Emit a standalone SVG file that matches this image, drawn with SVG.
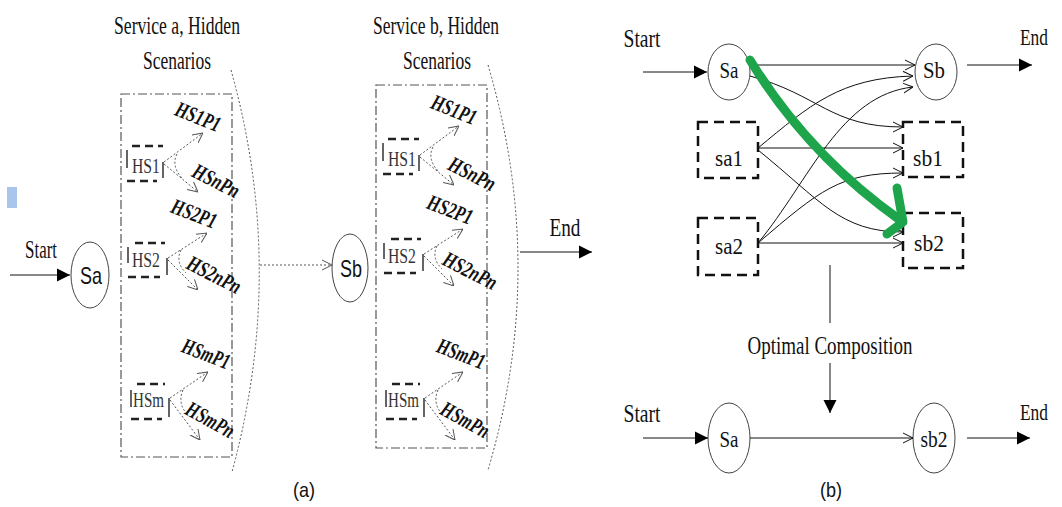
<svg xmlns="http://www.w3.org/2000/svg" width="1062" height="507" viewBox="0 0 1062 507">
<style>
.serif{font-family:"Liberation Serif","Times New Roman",serif;fill:#111}
.sans{font-family:"Liberation Sans",Arial,sans-serif;fill:#111}
.lbl{font-family:"Liberation Serif","Times New Roman",serif;font-weight:bold;font-style:italic;fill:#111;font-size:22px}
.hs{font-family:"Liberation Serif","Times New Roman",serif;fill:#333;font-size:20px}
.dot{fill:none;stroke:#555;stroke-width:1;stroke-dasharray:2 2}
.dashdot{fill:none;stroke:#555;stroke-width:1.2;stroke-dasharray:9 3 2 3}
.thick{fill:none;stroke:#222;stroke-width:2.5;stroke-dasharray:8 5}
.bar{fill:none;stroke:#333;stroke-width:1.5}
.bline{fill:none;stroke:#111;stroke-width:1}
.bbox{fill:none;stroke:#111;stroke-width:2.5;stroke-dasharray:10 6}
.node{fill:#fff;stroke:#444;stroke-width:1}
</style>
<defs>
<marker id="openG" viewBox="0 0 10 10" refX="10" refY="5" markerWidth="10" markerHeight="12" markerUnits="userSpaceOnUse" orient="auto"><path d="M0,0 L10,5 L0,10" fill="none" stroke="#555" stroke-width="1"/></marker>
<marker id="openB" viewBox="0 0 10 10" refX="10" refY="5" markerWidth="10" markerHeight="12" markerUnits="userSpaceOnUse" orient="auto"><path d="M0,0 L10,5 L0,10" fill="none" stroke="#111" stroke-width="1"/></marker>
<marker id="fillB" viewBox="0 0 10 10" refX="10" refY="5" markerWidth="13" markerHeight="14" markerUnits="userSpaceOnUse" orient="auto"><path d="M0,0 L10,5 L0,10 z" fill="#000"/></marker>
</defs>
<rect x="0" y="0" width="1062" height="507" fill="#fff"/>
<rect x="7" y="187" width="10" height="21" fill="#a9c5ec"/>

<g id="title-a">
<text class="serif" x="177" y="34" font-size="26" text-anchor="middle" textLength="126" lengthAdjust="spacingAndGlyphs">Service a, Hidden</text>
<text class="serif" x="177" y="69" font-size="26" text-anchor="middle" textLength="68" lengthAdjust="spacingAndGlyphs">Scenarios</text>
</g>
<g id="title-b">
<text class="serif" x="436" y="34" font-size="26" text-anchor="middle" textLength="126" lengthAdjust="spacingAndGlyphs">Service b, Hidden</text>
<text class="serif" x="437" y="69" font-size="26" text-anchor="middle" textLength="68" lengthAdjust="spacingAndGlyphs">Scenarios</text>
</g>

<g id="box-a">
<rect class="dashdot" x="121" y="94" width="111" height="363"/>
<path class="dot" d="M231,70 Q287,270 232,472"/>
</g>
<g id="box-b">
<rect class="dashdot" x="376" y="85" width="111" height="363"/>
<path class="dot" d="M488,65 Q548,268 488,470"/>
</g>

<g id="a-HS1">
<path class="thick" d="M132,146 H163 M127,181 H157"/>
<path class="bar" d="M127,150 V168 M163,162 V178"/>
<text class="hs" x="132" y="173" textLength="28" lengthAdjust="spacingAndGlyphs">HS1</text>
<path class="dot" d="M164,162 L203,133" marker-end="url(#openG)"/>
<path class="dot" d="M164,164 L198,192" marker-end="url(#openG)"/>
<path class="dot" d="M177,154 Q171,166 182,178"/>
<text class="lbl" transform="translate(198,117) rotate(22)" x="0" y="7" text-anchor="middle" textLength="47" lengthAdjust="spacingAndGlyphs">HS1P1</text>
<text class="lbl" transform="translate(216,181) rotate(27)" x="0" y="7" text-anchor="middle" textLength="50" lengthAdjust="spacingAndGlyphs">HSnPn</text>
</g>
<g id="a-HS2">
<path class="thick" d="M135,243 H165 M128,277 H160"/>
<path class="bar" d="M128,247 V263 M167,258 V275"/>
<text class="hs" x="132" y="267" textLength="28" lengthAdjust="spacingAndGlyphs">HS2</text>
<path class="dot" d="M168,258 L207,233" marker-end="url(#openG)"/>
<path class="dot" d="M168,260 L198,290" marker-end="url(#openG)"/>
<path class="dot" d="M181,250 Q175,262 186,273"/>
<text class="lbl" transform="translate(194,214) rotate(21)" x="0" y="7" text-anchor="middle" textLength="47" lengthAdjust="spacingAndGlyphs">HS2P1</text>
<text class="lbl" transform="translate(214,275) rotate(27)" x="0" y="7" text-anchor="middle" textLength="58" lengthAdjust="spacingAndGlyphs">HS2nPn</text>
</g>
<g id="a-HSm">
<path class="thick" d="M137,384 H165 M131,419 H162"/>
<path class="bar" d="M131,390 V407 M169,398 V417"/>
<text class="hs" x="133" y="407" textLength="31" lengthAdjust="spacingAndGlyphs">HSm</text>
<path class="dot" d="M170,398 L208,372" marker-end="url(#openG)"/>
<path class="dot" d="M170,400 L200,440" marker-end="url(#openG)"/>
<path class="dot" d="M183,390 Q177,404 188,415"/>
<text class="lbl" transform="translate(206,354) rotate(21)" x="0" y="7" text-anchor="middle" textLength="50" lengthAdjust="spacingAndGlyphs">HSmP1</text>
<text class="lbl" transform="translate(210,420) rotate(29)" x="0" y="7" text-anchor="middle" textLength="52" lengthAdjust="spacingAndGlyphs">HSmPn</text>
</g>

<g id="b-HS1" transform="translate(256,-7)">
<path class="thick" d="M132,146 H163 M127,181 H157"/>
<path class="bar" d="M127,150 V168 M163,162 V178"/>
<text class="hs" x="132" y="173" textLength="28" lengthAdjust="spacingAndGlyphs">HS1</text>
<path class="dot" d="M164,162 L203,133" marker-end="url(#openG)"/>
<path class="dot" d="M164,164 L198,192" marker-end="url(#openG)"/>
<path class="dot" d="M177,154 Q171,166 182,178"/>
<text class="lbl" transform="translate(198,117) rotate(22)" x="0" y="7" text-anchor="middle" textLength="47" lengthAdjust="spacingAndGlyphs">HS1P1</text>
<text class="lbl" transform="translate(216,181) rotate(27)" x="0" y="7" text-anchor="middle" textLength="50" lengthAdjust="spacingAndGlyphs">HSnPn</text>
</g>
<g id="b-HS2" transform="translate(256,-4)">
<path class="thick" d="M135,243 H165 M128,277 H160"/>
<path class="bar" d="M128,247 V263 M167,258 V275"/>
<text class="hs" x="132" y="267" textLength="28" lengthAdjust="spacingAndGlyphs">HS2</text>
<path class="dot" d="M168,258 L207,233" marker-end="url(#openG)"/>
<path class="dot" d="M168,260 L198,290" marker-end="url(#openG)"/>
<path class="dot" d="M181,250 Q175,262 186,273"/>
<text class="lbl" transform="translate(194,214) rotate(21)" x="0" y="7" text-anchor="middle" textLength="47" lengthAdjust="spacingAndGlyphs">HS2P1</text>
<text class="lbl" transform="translate(214,275) rotate(27)" x="0" y="7" text-anchor="middle" textLength="58" lengthAdjust="spacingAndGlyphs">HS2nPn</text>
</g>
<g id="b-HSm" transform="translate(255,0)">
<path class="thick" d="M137,384 H165 M131,419 H162"/>
<path class="bar" d="M131,390 V407 M169,398 V417"/>
<text class="hs" x="133" y="407" textLength="31" lengthAdjust="spacingAndGlyphs">HSm</text>
<path class="dot" d="M170,398 L208,372" marker-end="url(#openG)"/>
<path class="dot" d="M170,400 L200,440" marker-end="url(#openG)"/>
<path class="dot" d="M183,390 Q177,404 188,415"/>
<text class="lbl" transform="translate(206,354) rotate(21)" x="0" y="7" text-anchor="middle" textLength="50" lengthAdjust="spacingAndGlyphs">HSmP1</text>
<text class="lbl" transform="translate(210,420) rotate(29)" x="0" y="7" text-anchor="middle" textLength="52" lengthAdjust="spacingAndGlyphs">HSmPn</text>
</g>

<g id="a-Sa">
<ellipse class="node" cx="90" cy="275" rx="19" ry="33"/>
<text class="sans" x="91" y="284" font-size="24" text-anchor="middle" textLength="22" lengthAdjust="spacingAndGlyphs">Sa</text>
</g>
<g id="a-Sb">
<ellipse class="node" cx="350" cy="268" rx="18" ry="34"/>
<text class="sans" x="351" y="277" font-size="24" text-anchor="middle" textLength="22" lengthAdjust="spacingAndGlyphs">Sb</text>
</g>
<g id="a-labels">
<text class="serif" x="41" y="258" font-size="25" text-anchor="middle" textLength="32" lengthAdjust="spacingAndGlyphs">Start</text>
<text class="serif" x="565" y="236" font-size="25" text-anchor="middle" textLength="31" lengthAdjust="spacingAndGlyphs">End</text>
<text class="sans" x="304" y="497" font-size="21" text-anchor="middle" textLength="22" lengthAdjust="spacingAndGlyphs">(a)</text>
</g>

<g id="b-Sa">
<ellipse class="node" cx="729" cy="72" rx="21" ry="28"/>
<text class="serif" x="729" y="78" font-size="24" text-anchor="middle" textLength="19" lengthAdjust="spacingAndGlyphs">Sa</text>
</g>
<g id="b-Sb">
<ellipse class="node" cx="936" cy="72" rx="21" ry="28"/>
<text class="serif" x="934" y="78" font-size="24" text-anchor="middle" textLength="22" lengthAdjust="spacingAndGlyphs">Sb</text>
</g>
<g id="b-sa1">
<rect class="bbox" x="698" y="122" width="60" height="56"/>
<text class="serif" x="729" y="166" font-size="24" text-anchor="middle" textLength="28" lengthAdjust="spacingAndGlyphs">sa1</text>
</g>
<g id="b-sa2">
<rect class="bbox" x="698" y="218" width="60" height="57"/>
<text class="serif" x="729" y="254" font-size="24" text-anchor="middle" textLength="28" lengthAdjust="spacingAndGlyphs">sa2</text>
</g>
<g id="b-sb1">
<rect class="bbox" x="903" y="122" width="60" height="55"/>
<text class="serif" x="928" y="166" font-size="24" text-anchor="middle" textLength="30" lengthAdjust="spacingAndGlyphs">sb1</text>
</g>
<g id="b-sb2">
<rect class="bbox" x="903" y="213" width="60" height="55"/>
<text class="serif" x="929" y="251" font-size="24" text-anchor="middle" textLength="30" lengthAdjust="spacingAndGlyphs">sb2</text>
</g>
<g id="b-Sa2">
<ellipse class="node" cx="729" cy="438" rx="21" ry="35"/>
<text class="serif" x="729" y="447" font-size="24" text-anchor="middle" textLength="19" lengthAdjust="spacingAndGlyphs">Sa</text>
</g>
<g id="b-sb2-final">
<ellipse class="node" cx="934" cy="438" rx="21" ry="35"/>
<text class="serif" x="934" y="447" font-size="24" text-anchor="middle" textLength="27" lengthAdjust="spacingAndGlyphs">sb2</text>
</g>
<g id="b-labels">
<text class="serif" x="642" y="47" font-size="25" text-anchor="middle" textLength="37" lengthAdjust="spacingAndGlyphs">Start</text>
<text class="serif" x="1034" y="45" font-size="24" text-anchor="middle" textLength="28" lengthAdjust="spacingAndGlyphs">End</text>
<text class="serif" x="830" y="354" font-size="25" text-anchor="middle" textLength="165" lengthAdjust="spacingAndGlyphs">Optimal Composition</text>
<text class="serif" x="642" y="422" font-size="25" text-anchor="middle" textLength="37" lengthAdjust="spacingAndGlyphs">Start</text>
<text class="serif" x="1034" y="420" font-size="24" text-anchor="middle" textLength="28" lengthAdjust="spacingAndGlyphs">End</text>
<text class="sans" x="831" y="497" font-size="21" text-anchor="middle" textLength="22" lengthAdjust="spacingAndGlyphs">(b)</text>
</g>

<g id="connectors">
<path class="bline" d="M10,275 H70" marker-end="url(#fillB)"/>
<path class="dot" d="M260,265 H332" marker-end="url(#openG)"/>
<path class="bline" d="M520,252 H592" marker-end="url(#fillB)"/>
<path class="bline" d="M643,72 H707" marker-end="url(#fillB)"/>
<path class="bline" d="M967,65 H1032" marker-end="url(#fillB)"/>
<path class="bline" d="M750,65 H915" marker-end="url(#openB)"/>
<path class="bline" d="M750,76 C820,95 830,127 903,127" marker-end="url(#openB)"/>
<path class="bline" d="M758,148 C810,105 840,78 913,76" marker-end="url(#openB)"/>
<path class="bline" d="M758,148 H903" marker-end="url(#openB)"/>
<path class="bline" d="M758,150 C820,200 840,232 903,232" marker-end="url(#openB)"/>
<path class="bline" d="M758,243 C810,180 840,95 913,87" marker-end="url(#openB)"/>
<path class="bline" d="M758,243 C820,190 840,173 903,173" marker-end="url(#openB)"/>
<path class="bline" d="M758,243 H903" marker-end="url(#openB)"/>
<path class="bline" d="M830,265 V323"/>
<path class="bline" d="M830,363 V413" marker-end="url(#fillB)"/>
<path class="bline" d="M643,438 H708" marker-end="url(#fillB)"/>
<path class="bline" d="M750,438 H913" marker-end="url(#openB)"/>
<path class="bline" d="M967,438 H1030" marker-end="url(#fillB)"/>
<path d="M750,60 Q808,155 900,220" fill="none" stroke="#1ea54b" stroke-width="9" stroke-linecap="round"/>
<path d="M897,188 L903,222 L887,234" fill="none" stroke="#1ea54b" stroke-width="9" stroke-linecap="round" stroke-linejoin="round"/>
</g>
</svg>
